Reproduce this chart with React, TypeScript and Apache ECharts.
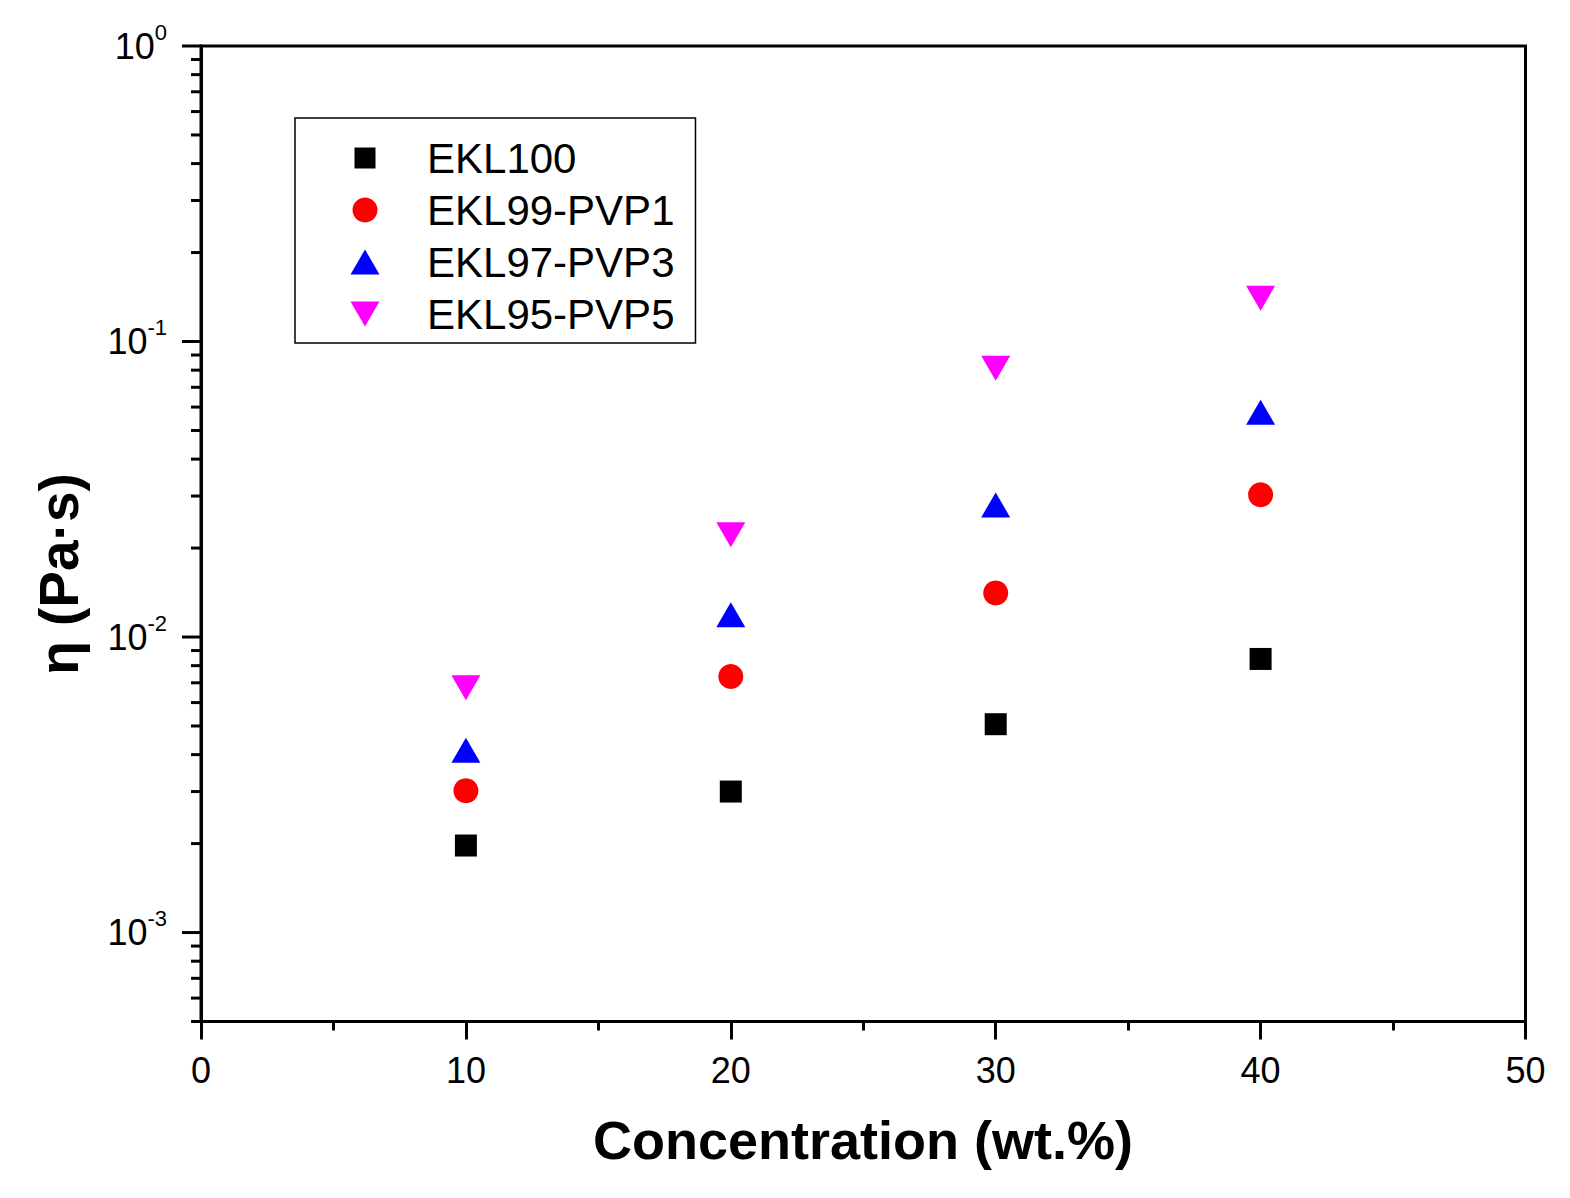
import React, { useEffect, useRef } from 'react';
import * as echarts from 'echarts';

// ---- data ----
const concentrations = [10, 20, 30, 40];
const ekl100 = [0.00197, 0.0030, 0.00507, 0.00843];
const ekl99pvp1 = [0.00302, 0.00735, 0.0141, 0.0303];
const ekl97pvp3 = [0.00414, 0.0119, 0.028, 0.0576];
const ekl95pvp5 = [0.00673, 0.0222, 0.0812, 0.14];
const seriesNames = ['EKL100', 'EKL99-PVP1', 'EKL97-PVP3', 'EKL95-PVP5'];

const yMajorTicks = [0.001, 0.01, 0.1, 1];
const yMinorTicks = [
  0.0005, 0.0006, 0.0007, 0.0008, 0.0009,
  0.002, 0.003, 0.004, 0.005, 0.006, 0.007, 0.008, 0.009,
  0.02, 0.03, 0.04, 0.05, 0.06, 0.07, 0.08, 0.09,
  0.2, 0.3, 0.4, 0.5, 0.6, 0.7, 0.8, 0.9,
];
const xTitle = 'Concentration (wt.%)';
const yTitle = 'η (Pa·s)';

const FONT = '"Liberation Sans", Arial, Helvetica, sans-serif';
const SQUARE_ICON = 'path://M0,0M4,2h21v21h-21zM29,25';
const DOWN_TRI = 'path://M0,0L29,0L14.5,25Z';

const pairs = (ys: number[]) => concentrations.map((c, i) => [c, ys[i]]);

function buildOption(): any {
  return {
    animation: false,
    backgroundColor: '#ffffff',
    grid: {
      left: 201,
      top: 46,
      width: 1324.5,
      height: 975.5,
      show: true,
      borderColor: '#000',
      borderWidth: 3,
      backgroundColor: 'transparent',
      containLabel: false,
      outerBoundsMode: 'none',
    },
    xAxis: {
      type: 'value',
      min: 0,
      max: 50,
      interval: 10,
      axisLine: { show: true, onZero: false, lineStyle: { color: '#000', width: 3 } },
      axisTick: { show: true, inside: false, length: 18, lineStyle: { color: '#000', width: 3 } },
      minorTick: { show: true, splitNumber: 2, length: 9, lineStyle: { color: '#000', width: 3 } },
      splitLine: { show: false },
      minorSplitLine: { show: false },
      axisLabel: {
        color: '#000',
        fontSize: 36,
        lineHeight: 40,
        fontFamily: FONT,
        margin: 29,
      },
    },
    yAxis: {
      type: 'log',
      logBase: 10,
      min: 0.0005,
      max: 1,
      axisLine: { show: true, onZero: false, lineStyle: { color: '#000', width: 3 } },
      axisTick: { show: false },
      splitLine: { show: false },
      axisLabel: {
        color: '#000',
        fontSize: 36,
        fontFamily: FONT,
        margin: 34,
        formatter: (v: number) => {
          const e = Math.round(Math.log10(v));
          if (Math.abs(v / Math.pow(10, e) - 1) > 1e-6) return '';
          return `{b|10}{s|${e}}`;
        },
        rich: {
          b: { fontSize: 36, lineHeight: 50, fontFamily: FONT, color: '#000' },
          s: { fontSize: 22, lineHeight: 22, verticalAlign: 'top', fontFamily: FONT, color: '#000' },
        },
      },
    },
    legend: {
      show: true,
      orient: 'vertical',
      left: 295,
      top: 118,
      padding: [14, 21, 3, 55.5],
      itemGap: 0,
      itemWidth: 29,
      itemHeight: 25,
      selectedMode: false,
      backgroundColor: '#fff',
      borderColor: '#000',
      borderWidth: 1.5,
      borderRadius: 0,
      itemStyle: { opacity: 1 },
      textStyle: {
        color: '#000',
        fontSize: 42,
        fontFamily: FONT,
        lineHeight: 52,
        padding: [0, 0, 0, 42.5],
      },
      data: [
        { name: seriesNames[0], icon: SQUARE_ICON },
        { name: seriesNames[1], icon: 'circle' },
        { name: seriesNames[2], icon: 'triangle' },
        { name: seriesNames[3], icon: DOWN_TRI },
      ],
    },
    graphic: [
      {
        type: 'text',
        x: 863,
        y: 1140,
        silent: true,
        style: {
          text: xTitle,
          fontSize: 54,
          fontWeight: 'bold',
          fontFamily: FONT,
          fill: '#000',
          align: 'center',
          verticalAlign: 'middle',
          textAlign: 'center',
          textVerticalAlign: 'middle',
        },
      },
      {
        type: 'text',
        x: 59,
        y: 574,
        rotation: Math.PI / 2,
        silent: true,
        style: {
          text: yTitle,
          fontSize: 55,
          fontWeight: 'bold',
          fontFamily: FONT,
          fill: '#000',
          align: 'center',
          verticalAlign: 'middle',
          textAlign: 'center',
          textVerticalAlign: 'middle',
        },
      },
    ],
    series: [
      {
        type: 'scatter',
        name: '__yMajorTicks',
        data: yMajorTicks.map((v) => [0, v]),
        symbol: 'rect',
        symbolSize: [19, 3],
        symbolOffset: [-9.5, 0],
        itemStyle: { color: '#000', opacity: 1 },
        silent: true,
        clip: false,
        emphasis: { disabled: true },
        z: 1,
      },
      {
        type: 'scatter',
        name: '__yMinorTicks',
        data: yMinorTicks.map((v) => [0, v]),
        symbol: 'rect',
        symbolSize: [10, 3],
        symbolOffset: [-5, 0],
        itemStyle: { color: '#000', opacity: 1 },
        silent: true,
        clip: false,
        emphasis: { disabled: true },
        z: 1,
      },
      {
        type: 'scatter',
        name: seriesNames[0],
        data: pairs(ekl100),
        symbol: 'rect',
        symbolSize: 22,
        itemStyle: { color: '#000000', opacity: 1 },
        emphasis: { disabled: true },
      },
      {
        type: 'scatter',
        name: seriesNames[1],
        data: pairs(ekl99pvp1),
        symbol: 'circle',
        symbolSize: 25,
        itemStyle: { color: '#FF0000', opacity: 1 },
        emphasis: { disabled: true },
      },
      {
        type: 'scatter',
        name: seriesNames[2],
        data: pairs(ekl97pvp3),
        symbol: 'triangle',
        symbolSize: [29, 25],
        itemStyle: { color: '#0000FF', opacity: 1 },
        emphasis: { disabled: true },
      },
      {
        type: 'scatter',
        name: seriesNames[3],
        data: pairs(ekl95pvp5),
        symbol: DOWN_TRI,
        symbolSize: [29, 25],
        itemStyle: { color: '#FF00FF', opacity: 1 },
        emphasis: { disabled: true },
      },
    ],
  };
}

export default function App() {
  const ref = useRef<HTMLDivElement>(null);
  useEffect(() => {
    if (!ref.current) return;
    const chart = echarts.init(ref.current, null, { renderer: 'svg' });
    chart.setOption(buildOption());
    return () => {
      chart.dispose();
    };
  }, []);
  return (
    <div
      ref={ref}
      style={{ position: 'absolute', left: 0, top: 0, width: 1570, height: 1198, background: '#fff' }}
    />
  );
}
